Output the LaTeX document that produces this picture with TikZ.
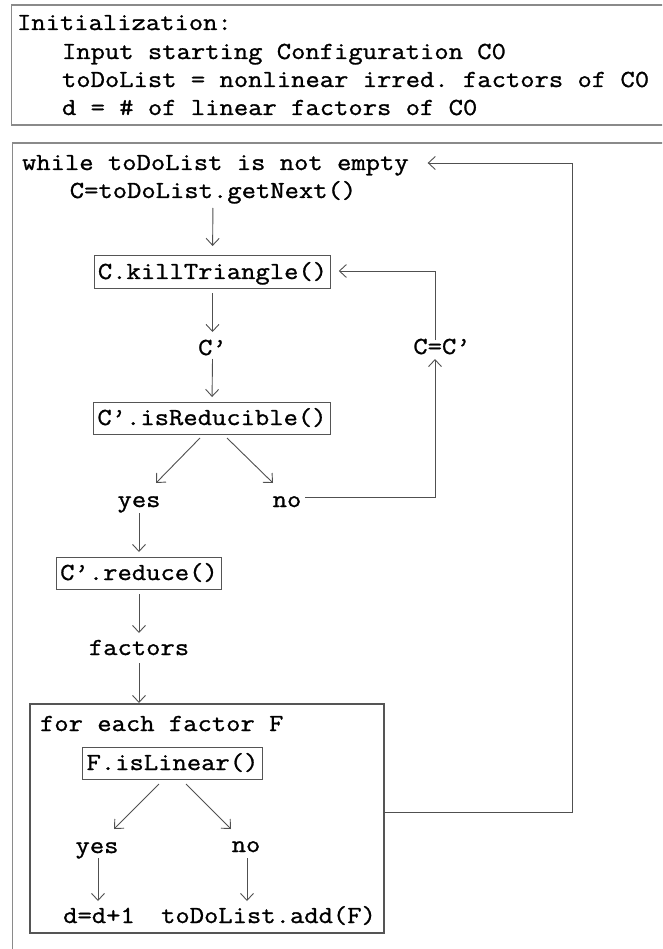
\documentclass[tikz,border=0pt]{standalone}
\usepackage{fontspec}
\setmonofont[FakeStretch=1.135,FakeBold=1.1]{Latin Modern Mono}
\usetikzlibrary{arrows.meta,calc}
\definecolor{framegray}{HTML}{8A8A8A}
\definecolor{boxgray}{HTML}{555555}
\definecolor{arrgray}{HTML}{505050}
\begin{document}
\begin{tikzpicture}[x=1pt,y=-1pt,
  every node/.style={font=\fontsize{24.5}{28.5}\selectfont\ttfamily, inner sep=0pt, outer sep=0pt, text height=18pt, text depth=4pt},
  stepbox/.style={draw=boxgray, line width=1pt, inner xsep=3.7pt, inner ysep=5pt},
  arr/.style={draw=arrgray, line width=0.9pt, -{Straight Barb[length=7pt,width=13pt]}},
  frame/.style={draw=framegray, line width=1.3pt}]
\useasboundingbox (0,0) rectangle (662,949);
\clip (0,0) rectangle (662,949);
\fill[white] (0,0) rectangle (662,949);
% outer frames
\draw[frame] (11.5,5) rectangle (700,125);
\draw[frame] (12.5,143) rectangle (700,1000);
% initialization
\node[anchor=west] (ini) at (17,23) {Initialization:};
\node[anchor=west] (inp) at (62,52) {Input starting Configuration C0};
\node[anchor=west] (tdl) at (62,80) {toDoList = nonlinear irred. factors of C0};
\node[anchor=west] (dlin) at (62,108) {d = \# of linear factors of C0};
% main loop
\node[anchor=west] (whl) at (22,163) {while toDoList is not empty};
\node (get) at (213,191) {C=toDoList.getNext()};
\node[stepbox] (kill) at (212.5,272) {C.killTriangle()};
\node (cp) at (212.5,348) {C’};
\node[stepbox] (isred) at (212,418) {C’.isReducible()};
\node (yes1) at (139,500) {yes};
\node (no1) at (287,500) {no};
\node (ceq) at (442,347) {C=C’};
\node[stepbox] (red) at (139,573) {C’.reduce()};
\node (fac) at (139,648) {factors};
% for each box
\node[draw=boxgray, line width=1.1pt, anchor=north west, minimum width=354pt, minimum height=229pt] (forbox) at (30,704) {};
\node[anchor=west] (forl) at (40,724) {for each factor F};
\node[stepbox] (lin) at (172.5,763) {F.isLinear()};
\node (yes2) at (97,846) {yes};
\node (no2) at (246,845) {no};
\node (dd) at (99,916) {d=d+1};
\node (add) at (268.5,916) {toDoList.add(F)};
\coordinate (rt) at (572,812);
% connectors
\draw[arr, shorten <=6pt, shorten >=10pt] (get.south) -- (kill.north);
\draw[arr, shorten <=5pt, shorten >=5pt] (kill.south) -- (cp.north);
\draw[arr, shorten >=5pt] (cp.south) -- (isred.north);
\draw[arr] ($(isred.south)+(-12,4)$) -- ($(yes1.north)+(17,-6)$);
\draw[arr] ($(isred.south)+(15,4)$) -- ($(no1.north)+(-14,-6)$);
\draw[arr] ([xshift=4pt,yshift=3pt]no1.east) -| ([xshift=-7pt,yshift=-1pt]ceq.south);
\draw[arr] ([xshift=-7pt,yshift=-4pt]ceq.north) |- ([xshift=8pt,yshift=1pt]kill.east);
\draw[arr, shorten <=2pt, shorten >=5pt] (yes1.south) -- (red.north);
\draw[arr, shorten <=5pt, shorten >=4pt] (red.south) -- (fac.north);
\draw[arr, shorten <=4pt, shorten >=1pt] (fac.south) -- (fac.south |- forbox.north);
\draw[arr] ($(lin.south)+(-13.5,5)$) -- ($(yes2.north)+(17,-6)$);
\draw[arr] ($(lin.south)+(13.5,5)$) -- ($(no2.north)+(-15,-5)$);
\draw[arr, shorten <=1pt, shorten >=4pt] ([xshift=1pt]yes2.south) -- ([xshift=1pt]yes2.south |- dd.north);
\draw[arr, shorten <=2pt, shorten >=4pt] ([xshift=1pt]no2.south) -- ([xshift=1pt]no2.south |- add.north);
\draw[arr] (forbox.east |- rt) -- (rt) |- ([xshift=19pt]whl.east);
\end{tikzpicture}
\end{document}
